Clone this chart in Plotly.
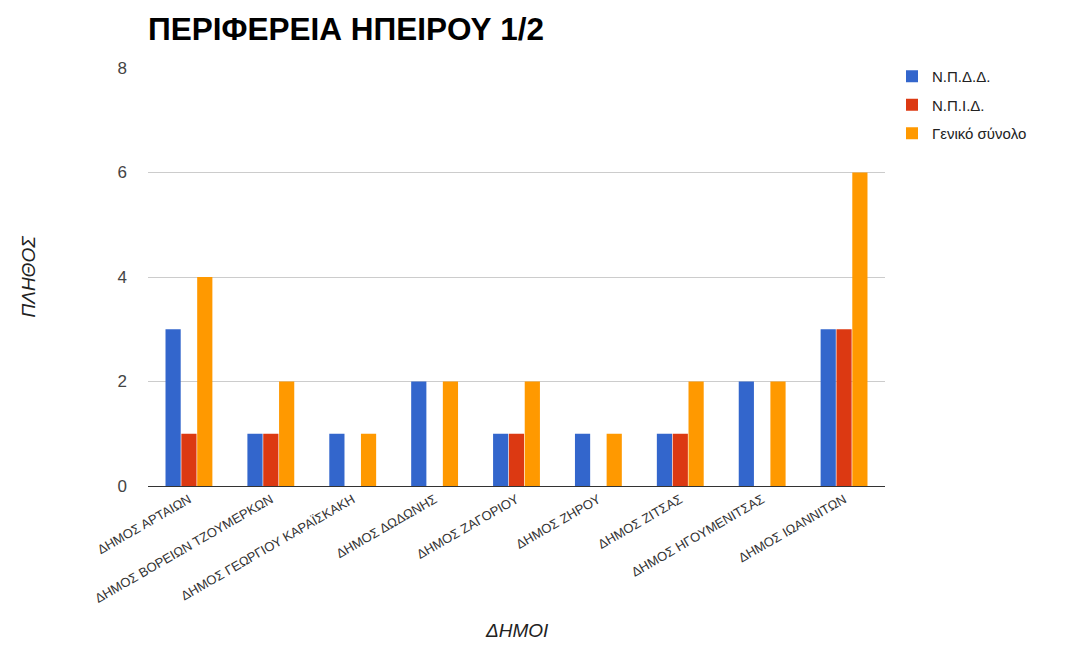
import plotly.graph_objects as go

categories = ["ΔΗΜΟΣ ΑΡΤΑΙΩΝ", "ΔΗΜΟΣ ΒΟΡΕΙΩΝ ΤΖΟΥΜΕΡΚΩΝ", "ΔΗΜΟΣ ΓΕΩΡΓΙΟΥ ΚΑΡΑΪΣΚΑΚΗ",
              "ΔΗΜΟΣ ΔΩΔΩΝΗΣ", "ΔΗΜΟΣ ΖΑΓΟΡΙΟΥ", "ΔΗΜΟΣ ΖΗΡΟΥ", "ΔΗΜΟΣ ΖΙΤΣΑΣ",
              "ΔΗΜΟΣ ΗΓΟΥΜΕΝΙΤΣΑΣ", "ΔΗΜΟΣ ΙΩΑΝΝΙΤΩΝ"]
npdd = [3, 1, 1, 2, 1, 1, 1, 2, 3]
npid = [1, 1, 0, 0, 1, 0, 1, 0, 3]
total = [4, 2, 1, 2, 2, 1, 2, 2, 6]

series = [("Ν.Π.Δ.Δ.", npdd, "#3366cc"),
          ("Ν.Π.Ι.Δ.", npid, "#dc3912"),
          ("Γενικό σύνολο", total, "#ff9900")]

W, H = 1051, 632
L, R, T, B = 140, 174, 60, 154

fig = go.Figure()
for i, (name, vals, col) in enumerate(series):
    fig.add_trace(go.Bar(x=categories, y=vals, name=name, marker_color=col,
                         marker_line_width=0, legendgroup=f"g{i}"))

fig.update_layout(
    width=W, height=H,
    paper_bgcolor="white", plot_bgcolor="white",
    margin=dict(l=L, r=R, t=T, b=B, autoexpand=False),
    barmode="group", bargap=0.42, bargroupgap=0.04,
    font=dict(family="Liberation Sans, Arial", color="#444"),
    title=dict(text="<b>ΠΕΡΙΦΕΡΕΙΑ ΗΠΕΙΡΟΥ 1/2</b>", x=L / W, xanchor="left",
               y=1 - 21 / H, yanchor="middle",
               font=dict(size=31.5, color="#000", family="Liberation Sans, Arial")),
    legend=dict(x=884 / W, y=1 - 52 / H, xref="container", yref="container",
                yanchor="top", xanchor="left",
                font=dict(size=15, color="#222"), tracegroupgap=6,
                itemwidth=30, bgcolor="rgba(0,0,0,0)"),
    showlegend=True,
    annotations=[dict(text="<i>ΔΗΜΟΙ</i>", xref="paper", yref="paper",
                      x=0.5, y=-(622 - (H - B)) / (H - T - B), xanchor="center",
                      yanchor="middle", showarrow=False,
                      font=dict(size=19, color="#222"))],
)

fig.update_xaxes(
    tickangle=-30, tickfont=dict(size=13, color="#333"), automargin=False,
    showline=True, linecolor="#333", linewidth=1, showgrid=False,
    ticks="",
)
fig.update_yaxes(
    range=[0, 8], dtick=2, showgrid=True, gridcolor="#cccccc", gridwidth=1,
    zeroline=False, tickfont=dict(size=17, color="#444"), ticks="", automargin=False,
    ticklabelstandoff=20,
    title=dict(text="<i>ΠΛΗΘΟΣ</i>", font=dict(size=19, color="#222"), standoff=76),
)

fig.write_html("out.html")
